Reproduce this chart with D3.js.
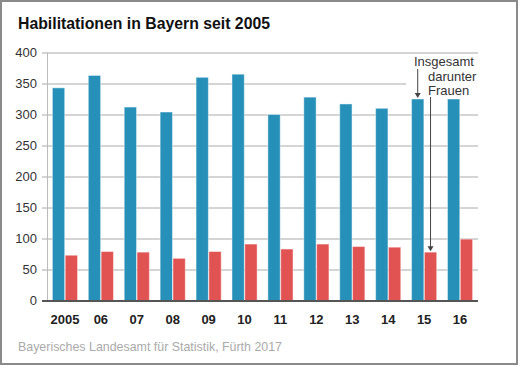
<!DOCTYPE html>
<html><head><meta charset="utf-8">
<script src="https://cdn.jsdelivr.net/npm/d3@7"></script>
<style>body{margin:0;background:#fff}svg{display:block;font-family:"Liberation Sans",Arial,sans-serif}</style>
</head><body><svg id="c" width="519" height="366"></svg>
<script>
const years = ["2005","06","07","08","09","10","11","12","13","14","15","16"];
const insgesamt = [343,363,312,304,360,365,300,328,317,310,325,325];
const frauen = [73,79,78,68,79,91,83,91,87,86,78,99];
const yTicks = [0,50,100,150,200,250,300,350,400];
const seriesNames = ["Insgesamt","Frauen"];
const colors = {Insgesamt:"#2690b9", Frauen:"#e15352"};

const svg = d3.select("#c");
svg.append("rect").attr("x",1).attr("y",1).attr("width",516).attr("height",363)
  .attr("fill","#fff").attr("stroke","#8a8a8a").attr("stroke-width",2);

svg.append("text").attr("x",18).attr("y",29).attr("font-size",17).attr("font-weight","bold")
  .attr("fill","#111").attr("textLength",252).attr("lengthAdjust","spacingAndGlyphs")
  .text("Habilitationen in Bayern seit 2005");
svg.append("text").attr("x",18).attr("y",351).attr("font-size",13).attr("fill","#aaa")
  .attr("textLength",264).attr("lengthAdjust","spacingAndGlyphs")
  .text("Bayerisches Landesamt für Statistik, Fürth 2017");

const x0 = d3.scaleBand().domain(years).range([47,478]).paddingInner(0.3).paddingOuter(0.15);
const x1 = d3.scaleBand().domain(seriesNames).range([0,x0.bandwidth()]).paddingInner(0.04);
const y = d3.scaleLinear().domain([0,400]).range([300.5,52.5]);

// grid
const yAxis = d3.axisLeft(y).tickValues(yTicks).tickSize(-(478-47)).tickPadding(10);
const ga = svg.append("g").attr("transform","translate(47,0)").call(yAxis);
ga.select(".domain").remove();
ga.selectAll(".tick line").attr("stroke","#aaa").attr("stroke-width",1).attr("x1",-5);
ga.selectAll(".tick text").attr("font-size",13).attr("fill","#333").attr("font-family","Liberation Sans, Arial, sans-serif");
svg.append("line").attr("x1",47.5).attr("x2",47.5).attr("y1",52.5).attr("y2",300.5).attr("stroke","#bbb");

// annotation background
svg.append("rect").attr("x",406).attr("y",56).attr("width",72).attr("height",40).attr("fill","#fff");

const data = years.map((yr,i)=>({yr, vals:[{k:"Insgesamt",v:insgesamt[i]},{k:"Frauen",v:frauen[i]}]}));
const g = svg.append("g");
g.selectAll("g").data(data).join("g").attr("transform",d=>`translate(${x0(d.yr)},0)`)
 .selectAll("rect").data(d=>d.vals).join("rect")
 .attr("x",d=>x1(d.k)).attr("width",x1.bandwidth())
 .attr("y",d=>y(d.v)).attr("height",d=>y(0)-y(d.v))
 .attr("fill",d=>colors[d.k]).attr("stroke","rgba(255,255,255,0.45)").attr("stroke-width",1);

// zero line
svg.append("line").attr("x1",42).attr("x2",478).attr("y1",y(0)+0.5).attr("y2",y(0)+0.5)
  .attr("stroke","#555").attr("stroke-width",2);

// x labels
const xa = svg.append("g").attr("transform",`translate(0,${y(0)})`)
  .call(d3.axisBottom(x0).tickSize(0).tickPadding(14));
xa.select(".domain").remove();
xa.selectAll("text").attr("font-size",13).attr("font-weight","bold").attr("fill","#222")
  .attr("font-family","Liberation Sans, Arial, sans-serif");

// annotations
const ann = svg.append("g").attr("font-size",13).attr("fill","#333");
ann.append("text").attr("x",414).attr("y",66).text("Insgesamt");
ann.append("text").attr("x",428).attr("y",81).text("darunter");
ann.append("text").attr("x",428).attr("y",95).text("Frauen");

const ax1 = x0("15") + x1("Insgesamt") + x1.bandwidth()/2;
const ax2 = x0("15") + x1("Frauen") + x1.bandwidth()/2;
const arrows = [{x:ax1, y1:69, y2:y(insgesamt[10])-1},{x:ax2, y1:97, y2:y(frauen[10])-1}];
arrows.forEach(a=>{
  svg.append("line").attr("x1",a.x).attr("x2",a.x).attr("y1",a.y1).attr("y2",a.y2-4)
    .attr("stroke","#444").attr("stroke-width",1);
  svg.append("path").attr("d",`M${a.x-3},${a.y2-5}L${a.x+3},${a.y2-5}L${a.x},${a.y2}Z`).attr("fill","#444");
});
</script></body></html>
